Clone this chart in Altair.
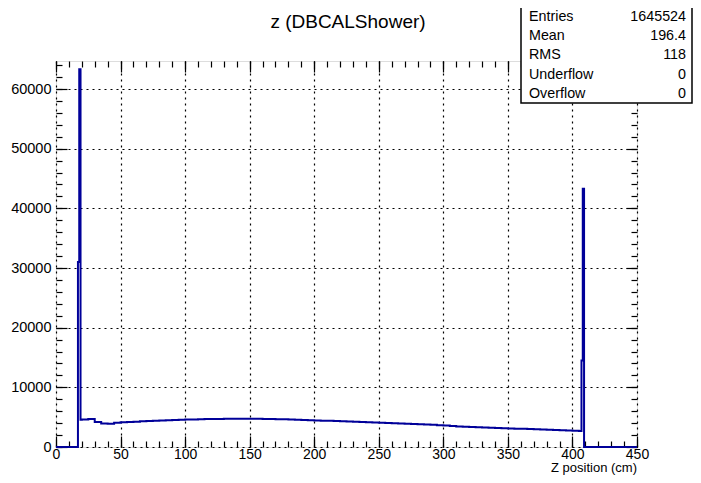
import altair as alt
import pandas as pd

# histogram bin lower edges (cm) and counts
bin_edges = [0, 17, 18, 19, 20, 25, 30, 35, 40, 45, 50, 55, 60, 65, 70, 75, 80, 85, 90, 95,
             100, 105, 110, 115, 120, 125, 130, 135, 140, 145, 150, 155, 160, 165, 170, 175,
             180, 185, 190, 195, 200, 205, 210, 215, 220, 225, 230, 235, 240, 245, 250, 255,
             260, 265, 270, 275, 280, 285, 290, 295, 300, 305, 310, 315, 320, 325, 330, 335,
             340, 345, 350, 355, 360, 365, 370, 375, 380, 385, 390, 395, 400, 405, 407, 408,
             409, 450]
bin_counts = [0, 31000, 63300, 4550, 4600, 4700, 4200, 3950, 3900, 4050, 4150, 4200, 4250,
              4300, 4350, 4400, 4450, 4480, 4520, 4570, 4600, 4620, 4650, 4680, 4700, 4700,
              4720, 4740, 4750, 4750, 4740, 4720, 4700, 4680, 4660, 4640, 4600, 4570, 4540,
              4480, 4430, 4400, 4380, 4350, 4320, 4280, 4250, 4200, 4160, 4120, 4080, 4030,
              3990, 3940, 3900, 3860, 3810, 3760, 3710, 3660, 3600, 3540, 3450, 3400, 3360,
              3320, 3280, 3240, 3200, 3160, 3120, 3080, 3040, 3000, 2960, 2920, 2880, 2840,
              2800, 2760, 2720, 2700, 14500, 43300, 0, 0]

x_major = [0, 50, 100, 150, 200, 250, 300, 350, 400, 450]
x_minor = list(range(0, 451, 10))
y_major = [0, 10000, 20000, 30000, 40000, 50000, 60000]
y_minor = list(range(0, 64001, 2000))

title_text = "z (DBCALShower)"
x_title = "Z position  (cm)"
stat_names = ["Entries", "Mean", "RMS", "Underflow", "Overflow"]
stat_values = ["1645524", "196.4", "118", "0", "0"]

df = pd.DataFrame({"z": bin_edges, "n": bin_counts})

FONT = "Liberation Sans"
W, H = 581, 386
xs = alt.Scale(domain=[0, 450], nice=False, zero=False)
ys = alt.Scale(domain=[0, 64700], nice=False, zero=False)

base = alt.Chart(df)

main = base.mark_line(interpolate="step-after", color="#000099", strokeWidth=2).encode(
    x=alt.X("z:Q", scale=xs, axis=alt.Axis(
        orient="bottom", values=x_major, grid=True, gridDash=[2, 4], gridColor="black",
        gridWidth=1.2, gridOpacity=1, ticks=False, domain=False, labelFontSize=14,
        labelFont=FONT, labelColor="black", labelPadding=0, labelFlush=False,
        labelOverlap=False, format="d", title=None)),
    y=alt.Y("n:Q", scale=ys, axis=alt.Axis(
        orient="left", values=y_major, grid=True, gridDash=[2, 4], gridColor="black",
        gridWidth=1.2, gridOpacity=1, ticks=False, domain=False, labelFontSize=14.5,
        labelFont=FONT, labelColor="black", labelPadding=5, labelFlush=False,
        labelOverlap=False, format="d", title=None)),
)


def tick_layer(xorient, yorient, xvals, yvals, size):
    return base.mark_line(opacity=0).encode(
        x=alt.X("z:Q", scale=xs, axis=alt.Axis(
            orient=xorient, values=xvals, offset=-size, tickSize=size, tickColor="black",
            tickWidth=1.2, labels=False, domain=False, grid=False, title=None)),
        y=alt.Y("n:Q", scale=ys, axis=alt.Axis(
            orient=yorient, values=yvals, offset=-size, tickSize=size, tickColor="black",
            tickWidth=1.2, labels=False, domain=False, grid=False, title=None)),
    )


t1 = tick_layer("bottom", "left", x_minor, y_minor, 6)
t2 = tick_layer("bottom", "left", x_major, y_major, 11)
t3 = tick_layer("top", "right", x_minor, y_minor, 6)
t4 = tick_layer("top", "right", x_major, y_major, 11)

one = pd.DataFrame({"a": [0]})

title = alt.Chart(one).mark_text(
    text=title_text, font=FONT, fontSize=19, color="black", align="center", baseline="middle"
).encode(x=alt.value(292), y=alt.value(-39))

xtitle = alt.Chart(one).mark_text(
    text=x_title, font=FONT, fontSize=13, color="black", align="right",
    baseline="alphabetic"
).encode(x=alt.value(581), y=alt.value(411))

box = alt.Chart(one).mark_rect(fill="white", stroke="black", strokeWidth=1.5).encode(
    x=alt.value(465), x2=alt.value(636), y=alt.value(-54), y2=alt.value(42))

stat_layers = []
for i, (nm, vl) in enumerate(zip(stat_names, stat_values)):
    yy = -44.5 + i * 19.4
    stat_layers.append(alt.Chart(one).mark_text(
        text=nm, font=FONT, fontSize=14.3, color="black", align="left", baseline="middle"
    ).encode(x=alt.value(473), y=alt.value(yy)))
    stat_layers.append(alt.Chart(one).mark_text(
        text=vl, font=FONT, fontSize=14.3, color="black", align="right", baseline="middle"
    ).encode(x=alt.value(630), y=alt.value(yy)))

chart = alt.layer(main, t1, t2, t3, t4, title, xtitle, box, *stat_layers).resolve_axis(
    x="independent", y="independent"
).properties(
    width=W, height=H, autosize="none",
    padding={"left": 48, "top": 53, "right": 56, "bottom": 28},
).configure_view(stroke="black", strokeWidth=2).configure(background="white")

chart.save("out.html", embed_options={"renderer": "svg", "actions": False})
